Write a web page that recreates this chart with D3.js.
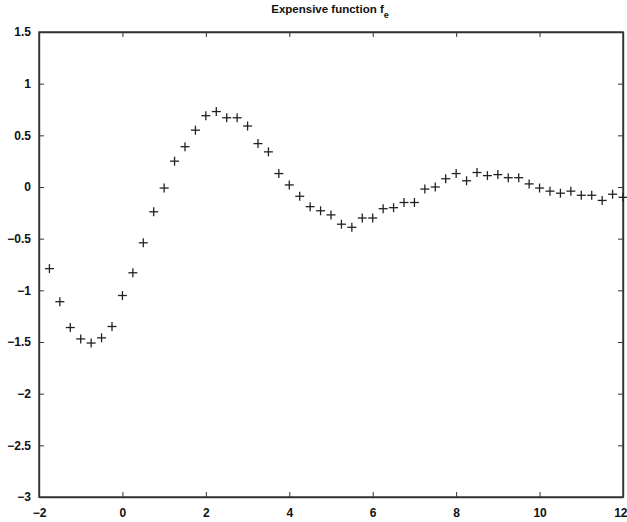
<html>
<head>
    <title>Expensive function</title>
    <style>
        body {
            margin: 0;
            padding: 0;
            background-color: #ffffff;
        }

        .chart text {
            font-family: "Liberation Sans", Arial, sans-serif;
            fill: #111;
        }

        .marker {
            stroke: #222;
            stroke-width: 1.3;
        }
    </style>
</head>

<body>
    <div class="chart"></div>
    <script src="https://d3js.org/d3.v7.min.js"></script>
    <script>
// sample locations and values
const xs = [-1.75, -1.5, -1.25, -1, -0.75, -0.5, -0.25, 0, 0.25, 0.5, 0.75, 1,
    1.25, 1.5, 1.75, 2, 2.25, 2.5, 2.75, 3, 3.25, 3.5, 3.75, 4, 4.25, 4.5, 4.75, 5,
    5.25, 5.5, 5.75, 6, 6.25, 6.5, 6.75, 7, 7.25, 7.5, 7.75, 8, 8.25, 8.5, 8.75, 9,
    9.25, 9.5, 9.75, 10, 10.25, 10.5, 10.75, 11, 11.25, 11.5, 11.75, 12];
const ys = [-0.79, -1.11, -1.36, -1.47, -1.51, -1.46, -1.35, -1.05, -0.83, -0.54, -0.24, -0.01,
    0.25, 0.39, 0.55, 0.69, 0.73, 0.67, 0.67, 0.59, 0.42, 0.34, 0.13, 0.02, -0.09, -0.19, -0.23, -0.27,
    -0.36, -0.39, -0.30, -0.30, -0.21, -0.20, -0.15, -0.15, -0.02, 0.00, 0.08, 0.13, 0.06, 0.14, 0.11, 0.12,
    0.09, 0.09, 0.03, -0.01, -0.04, -0.06, -0.04, -0.08, -0.08, -0.13, -0.07, -0.10];
const xTicks = [-2, 0, 2, 4, 6, 8, 10, 12];
const yTicks = [-3, -2.5, -2, -1.5, -1, -0.5, 0, 0.5, 1, 1.5];

const W = 627, H = 522;
const margin = { top: 32, right: 4, bottom: 25, left: 39 };
const width = W - margin.left - margin.right;
const height = H - margin.top - margin.bottom;

const svg = d3.select('.chart')
    .append('svg')
    .attr('width', W)
    .attr('height', H);

const g = svg.append('g')
    .attr('transform', `translate(${margin.left},${margin.top})`);

const x = d3.scaleLinear().domain([-2, 12]).range([0, width]);
const y = d3.scaleLinear().domain([-3, 1.5]).range([height, 0]);

const fmt = d => String(d).replace('-', '\u2212');

// axes, matlab style: ticks inside on all four sides
const xAxisG = g.append('g')
    .attr('transform', `translate(0,${height})`)
    .call(d3.axisBottom(x).tickValues(xTicks).tickSizeInner(-5).tickSizeOuter(0).tickPadding(11).tickFormat(fmt));
g.append('g')
    .call(d3.axisTop(x).tickValues(xTicks).tickSizeInner(-5).tickSizeOuter(0).tickFormat(''));
g.append('g')
    .call(d3.axisLeft(y).tickValues(yTicks).tickSizeInner(-5).tickSizeOuter(0).tickPadding(8).tickFormat(fmt));
g.append('g')
    .attr('transform', `translate(${width},0)`)
    .call(d3.axisRight(y).tickValues(yTicks).tickSizeInner(-5).tickSizeOuter(0).tickFormat(''));

g.selectAll('.domain').attr('stroke', '#333').attr('stroke-width', 1.4);
g.selectAll('.tick line').attr('stroke', '#333');
g.selectAll('.tick text').style('font-size', '12px').style('font-weight', 'bold').attr('fill', '#111');

// last x label sits against the window edge
xAxisG.selectAll('.tick text')
    .filter(d => d === 12)
    .attr('text-anchor', 'end')
    .attr('dx', 4);

// box
g.append('rect')
    .attr('width', width)
    .attr('height', height)
    .attr('fill', 'none')
    .attr('stroke', '#333')
    .attr('stroke-width', 1.4);

// plus markers
const pts = xs.map((v, i) => ({ x: v, y: ys[i] }));
const m = g.selectAll('.pt')
    .data(pts)
    .enter()
    .append('g')
    .attr('class', 'pt')
    .attr('transform', d => `translate(${x(d.x)},${y(d.y)})`);
m.append('line').attr('class', 'marker').attr('x1', -4.5).attr('x2', 4.5);
m.append('line').attr('class', 'marker').attr('y1', -4.5).attr('y2', 4.5);

// title
const title = svg.append('text')
    .attr('x', 330)
    .attr('y', 13)
    .attr('text-anchor', 'middle')
    .style('font-size', '11.5px')
    .style('font-weight', 'bold');
title.append('tspan').text('Expensive function f');
title.append('tspan').attr('dy', 5).style('font-size', '9px').text('e');
    </script>
</body>

</html>
